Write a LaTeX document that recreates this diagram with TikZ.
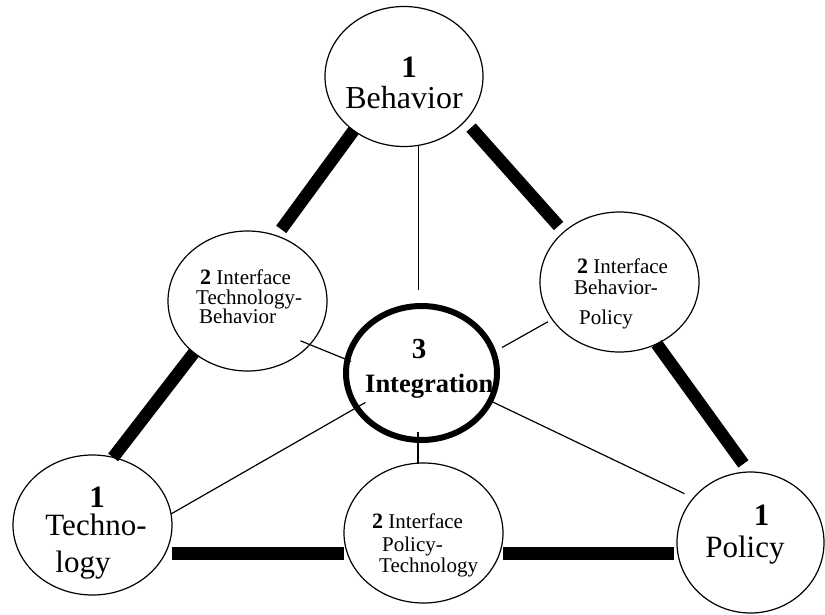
\documentclass[tikz,border=0pt]{standalone}
\usepackage{fontspec}
\setmainfont{Liberation Serif}
\usetikzlibrary{shapes.geometric}
\tikzset{
  oval/.style={ellipse, draw, line width=1.2pt, inner sep=0pt, outer sep=0pt},
  ring/.style={ellipse, draw, line width=6pt, inner sep=0pt, outer sep=0pt},
  bar/.style={line width=12.5pt, line cap=butt},
  link/.style={line width=1.2pt},
  lbl/.style={inner sep=0pt, anchor=base},
  lblw/.style={inner sep=0pt, anchor=base west},
  fbig/.style={font=\fontsize{32}{32}\selectfont},
  fmid/.style={font=\fontsize{31}{31}\selectfont},
  fsmall/.style={font=\fontsize{21}{21}\selectfont},
}
\begin{document}
\begin{tikzpicture}[x=1pt,y=-1pt]
\fill[white] (0,0) rectangle (825,614);
\useasboundingbox (0,0) rectangle (825,614);

% ellipses
\node[oval, minimum width=158pt, minimum height=140pt] (beh) at (404,76.5) {};
\node[oval, minimum width=159pt, minimum height=140pt] (tb) at (247.5,301) {};
\node[oval, minimum width=159pt, minimum height=140pt] (bp) at (619.5,282) {};
\node[ring, minimum width=151pt, minimum height=134pt] (integ) at (421.5,373) {};
\node[oval, minimum width=159pt, minimum height=140pt] (tech) at (92.5,525) {};
\node[oval, minimum width=159pt, minimum height=140pt] (pt) at (423.5,533) {};
\node[oval, minimum width=147pt, minimum height=141pt] (pol) at (750.5,542.5) {};

% thick bars
\draw[bar, shorten >=8pt] (beh.-133.3) -- (tb.66);
\draw[bar] (tb.-136.9) -- (tech.73.8);
\draw[bar, shorten <=9pt, shorten >=8pt] (beh.-36.9) -- (bp.138.7);
\draw[bar, shorten >=10pt] (bp.-59.4) -- (pol.91.8);
\draw[bar] ([yshift=-28.5pt]tech.east) -- ([yshift=-28.5pt]tech.east -| pt.west);
\draw[bar, shorten >=3pt] ([yshift=-20.5pt]pt.east) -- ([yshift=-20.5pt]pt.east -| pol.west);

% thin links
\draw[link, shorten >=16pt] (beh.-78.5) -- (beh.-78.5 |- integ.north);
\draw[link, shorten >=-8pt] ([xshift=-5.5pt]pt.north) -- ([xshift=-5.5pt]pt.north |- integ.south);
\draw[link, shorten <=-10pt, shorten >=-4pt] (tb.-35.4) -- (integ.170.6);
\draw[link, shorten <=10pt, shorten >=5pt] (integ.16.4) -- (bp.-151.7);
\draw[link, shorten <=-10pt] (integ.-152.8) -- (tech.8.6);
\draw[link, shorten <=2pt, shorten >=10pt] (integ.-22.2) -- (pol.142.9);

% texts
\node[lbl, font=\fontsize{31}{31}\selectfont\bfseries] (behA) at (409,77) {1};
\node[lbl, fbig] (behB) at (404,108) {Behavior};

\node[lbl, font=\fontsize{31}{31}\selectfont\bfseries] (techA) at (97,507) {1};
\node[lbl, fmid] (techB) at (96,535) {Techno-};
\node[lbl, fmid] (techC) at (83,572) {logy};

\node[lbl, font=\fontsize{31}{31}\selectfont\bfseries] (polA) at (761.5,525) {1};
\node[lbl, fmid] (polB) at (745,557) {Policy};

\node[lblw, fsmall] (tbA) at (200,284) {{\fontsize{22}{22}\selectfont\bfseries 2} Interface};
\node[lblw, fsmall] (tbB) at (196,304) {Technology-};
\node[lblw, fsmall] (tbC) at (199,323) {Behavior};

\node[lblw, fsmall] (bpA) at (577,273) {{\fontsize{22}{22}\selectfont\bfseries 2} Interface};
\node[lblw, fsmall] (bpB) at (574,294) {Behavior-};
\node[lblw, fsmall] (bpC) at (579,324) {Policy};

\node[lblw, fsmall] (ptA) at (372,528) {{\fontsize{22}{22}\selectfont\bfseries 2} Interface};
\node[lblw, fsmall] (ptB) at (382,551) {Policy-};
\node[lblw, fsmall] (ptC) at (379,572) {Technology};

\node[lbl, font=\fontsize{29}{29}\selectfont\bfseries] (intA) at (419,358) {3};
\node[lblw, font=\fontsize{26.5}{26.5}\selectfont\bfseries] (intB) at (365,392) {Integration};
\end{tikzpicture}
\end{document}
